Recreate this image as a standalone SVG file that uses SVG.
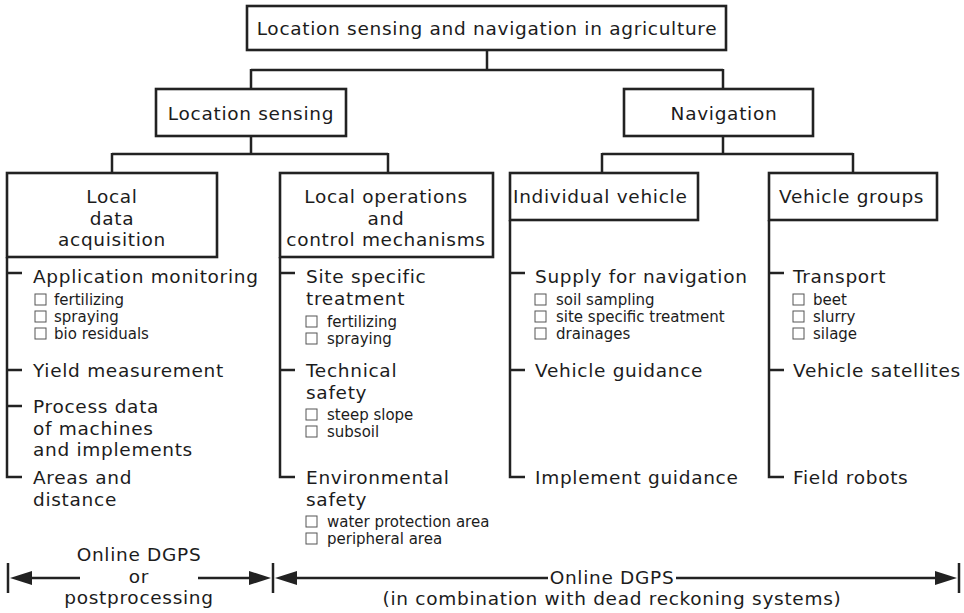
<svg xmlns="http://www.w3.org/2000/svg" width="964" height="613" viewBox="0 0 964 613">
<style>
text{font-family:"DejaVu Sans","Liberation Sans",sans-serif;fill:#1c1c1c}
.b,.it{font-size:18.5px;letter-spacing:0.7px}
.sub{font-size:15px}
.mid{text-anchor:middle}
.box{fill:#fff;stroke:#222;stroke-width:2.6}
.ln{fill:none;stroke:#222;stroke-width:2.5}
.cb{fill:#fff;stroke:#555;stroke-width:1}
</style>
<defs>
<marker id="ah" viewBox="0 0 22 14" refX="0" refY="7" markerWidth="22" markerHeight="14" markerUnits="userSpaceOnUse" orient="auto">
<path d="M0,0 L22,7 L0,14 z" fill="#222"/>
</marker>
<rect id="chk" width="11" height="11" class="cb"/>
</defs>
<rect width="964" height="613" fill="#fff"/>

<g id="connectors">
<path class="ln" d="M487,50 V70 M251,70 H723 M251,69 V89 M723,69 V89"/>
<path class="ln" d="M251,136 V154 M112,154 H388 M112,153 V173 M388,153 V173"/>
<path class="ln" d="M723,136 V154 M602,154 H853 M602,153 V173 M853,153 V173"/>
<path class="ln" d="M7,257 V477 H22 M7,273 H22 M7,370 H22 M7,406 H22"/>
<path class="ln" d="M280,257 V477 H295 M280,273 H295 M280,370 H295"/>
<path class="ln" d="M510,220 V477 H525 M510,273 H525 M510,370 H525"/>
<path class="ln" d="M769,220 V477 H784 M769,273 H784 M769,370 H784"/>
</g>

<g id="root">
<rect class="box" x="247" y="6" width="479" height="44"/>
<text class="b mid" x="487" y="35">Location sensing and navigation in agriculture</text>
</g>
<g id="location-sensing">
<rect class="box" x="156" y="89" width="190" height="47"/>
<text class="b mid" x="251" y="120">Location sensing</text>
</g>
<g id="navigation">
<rect class="box" x="624" y="89" width="189" height="47"/>
<text class="b mid" x="724" y="120">Navigation</text>
</g>
<g id="local-data-acquisition">
<rect class="box" x="7" y="173" width="210" height="84"/>
<text class="b mid" x="112" y="203">Local<tspan x="112" dy="21.5">data</tspan><tspan x="112" dy="21.5">acquisition</tspan></text>
</g>
<g id="local-operations">
<rect class="box" x="280" y="173" width="213" height="84"/>
<text class="b mid" x="386" y="203">Local operations<tspan x="386" dy="21.5">and</tspan><tspan x="386" dy="21.5">control mechanisms</tspan></text>
</g>
<g id="individual-vehicle">
<rect class="box" x="510" y="173" width="188" height="47"/>
<text class="b" x="513" y="203">Individual vehicle</text>
</g>
<g id="vehicle-groups">
<rect class="box" x="769" y="173" width="168" height="47"/>
<text class="b" x="779" y="203">Vehicle groups</text>
</g>

<g id="col1-items">
<text class="it" x="33" y="283">Application monitoring</text>
<use href="#chk" x="35" y="294"/><text class="sub" x="54" y="305">fertilizing</text>
<use href="#chk" x="35" y="311"/><text class="sub" x="54" y="322">spraying</text>
<use href="#chk" x="35" y="328"/><text class="sub" x="54" y="339">bio residuals</text>
<text class="it" x="33" y="377">Yield measurement</text>
<text class="it" x="33" y="413">Process data<tspan x="33" dy="21.5">of machines</tspan><tspan x="33" dy="21.5">and implements</tspan></text>
<text class="it" x="33" y="484">Areas and<tspan x="33" dy="21.5">distance</tspan></text>
</g>
<g id="col2-items">
<text class="it" x="306" y="283">Site specific<tspan x="306" dy="21.5">treatment</tspan></text>
<use href="#chk" x="306" y="316"/><text class="sub" x="327" y="327">fertilizing</text>
<use href="#chk" x="306" y="333"/><text class="sub" x="327" y="344">spraying</text>
<text class="it" x="306" y="377">Technical<tspan x="306" dy="21.5">safety</tspan></text>
<use href="#chk" x="306" y="409"/><text class="sub" x="327" y="420">steep slope</text>
<use href="#chk" x="306" y="426"/><text class="sub" x="327" y="437">subsoil</text>
<text class="it" x="306" y="484">Environmental<tspan x="306" dy="21.5">safety</tspan></text>
<use href="#chk" x="306" y="516"/><text class="sub" x="327" y="527">water protection area</text>
<use href="#chk" x="306" y="533"/><text class="sub" x="327" y="544">peripheral area</text>
</g>
<g id="col3-items">
<text class="it" x="535" y="283">Supply for navigation</text>
<use href="#chk" x="535" y="294"/><text class="sub" x="556" y="305">soil sampling</text>
<use href="#chk" x="535" y="311"/><text class="sub" x="556" y="322">site specific treatment</text>
<use href="#chk" x="535" y="328"/><text class="sub" x="556" y="339">drainages</text>
<text class="it" x="535" y="377">Vehicle guidance</text>
<text class="it" x="535" y="484">Implement guidance</text>
</g>
<g id="col4-items">
<text class="it" x="793" y="283">Transport</text>
<use href="#chk" x="793" y="294"/><text class="sub" x="813" y="305">beet</text>
<use href="#chk" x="793" y="311"/><text class="sub" x="813" y="322">slurry</text>
<use href="#chk" x="793" y="328"/><text class="sub" x="813" y="339">silage</text>
<text class="it" x="793" y="377">Vehicle satellites</text>
<text class="it" x="793" y="484">Field robots</text>
</g>

<g id="ranges">
<path class="ln" d="M8,563 V593 M273,563 V593 M959,563 V593"/>
<path class="ln" d="M80,578 H32" marker-end="url(#ah)"/>
<path class="ln" d="M198,578 H249" marker-end="url(#ah)"/>
<path class="ln" d="M548,578 H297" marker-end="url(#ah)"/>
<path class="ln" d="M676,578 H935" marker-end="url(#ah)"/>
<text class="b mid" x="139" y="561">Online DGPS<tspan x="139" dy="21.5">or</tspan><tspan x="139" dy="21.5">postprocessing</tspan></text>
<text class="b mid" x="612" y="583.5">Online DGPS<tspan x="612" dy="21.5">(in combination with dead reckoning systems)</tspan></text>
</g>
</svg>
